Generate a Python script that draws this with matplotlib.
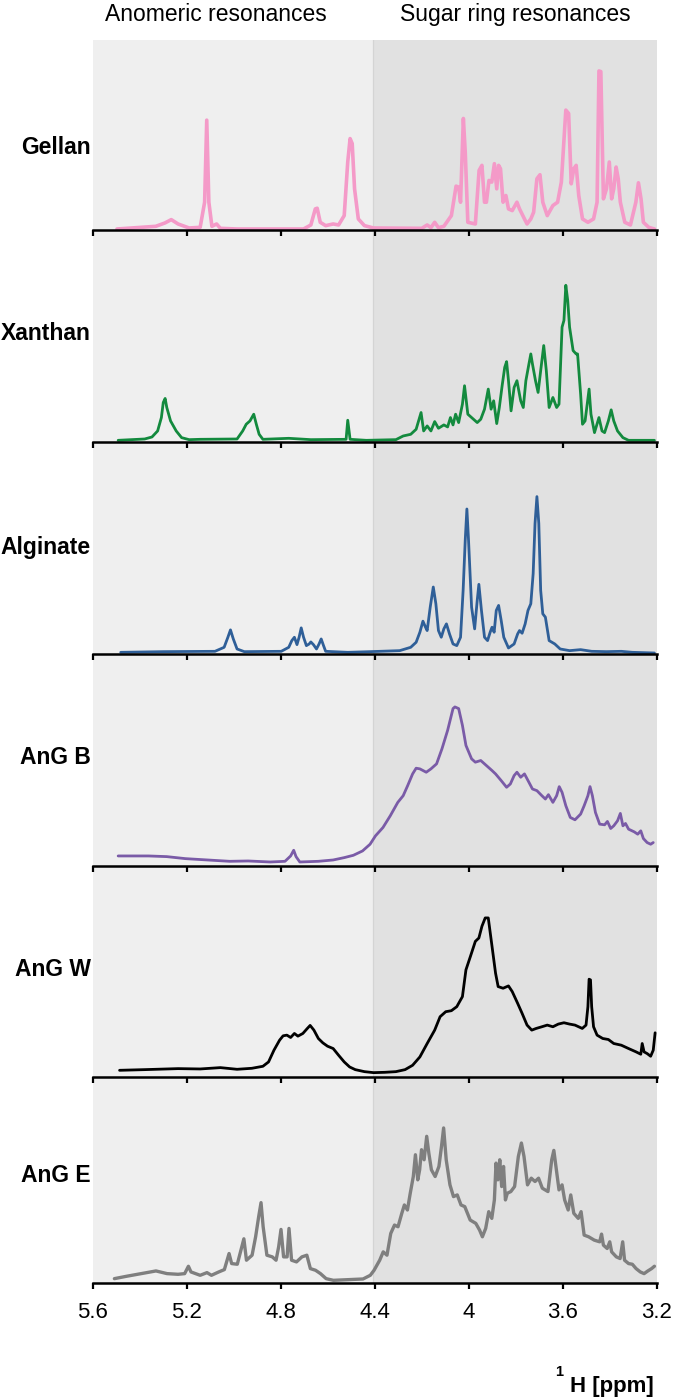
import matplotlib
matplotlib.use("Agg")
import matplotlib.pyplot as plt

plt.rcParams['font.family'] = ['Liberation Sans', 'DejaVu Sans']

# ---------------- data (ppm, intensity in arbitrary units) ----------------
gellan_ppm = [5.498, 5.333, 5.294, 5.267, 5.238, 5.191, 5.144, 5.125, 5.116, 5.107, 5.094, 5.074, 5.058, 4.987,
              4.704, 4.673, 4.654, 4.646, 4.633, 4.610, 4.578, 4.555, 4.531, 4.516, 4.506, 4.497, 4.487, 4.471,
              4.445, 4.406, 4.201, 4.178, 4.162, 4.146, 4.130, 4.107, 4.075, 4.055, 4.044, 4.036, 4.024, 4.016,
              4.005, 3.973, 3.957, 3.945, 3.934, 3.926, 3.915, 3.903, 3.892, 3.882, 3.874, 3.866, 3.855, 3.843,
              3.832, 3.816, 3.796, 3.785, 3.764, 3.753, 3.737, 3.725, 3.711, 3.698, 3.686, 3.667, 3.643, 3.623,
              3.607, 3.588, 3.576, 3.565, 3.554, 3.544, 3.533, 3.517, 3.494, 3.470, 3.455, 3.447, 3.439, 3.428,
              3.415, 3.403, 3.393, 3.384, 3.374, 3.365, 3.356, 3.337, 3.313, 3.290, 3.279, 3.268, 3.258, 3.235,
              3.211]
gellan_int = [3, 11, 21, 31, 18, 6, 8, 83, 328, 83, 11, 18, 5, 3,
              3, 15, 63, 65, 23, 13, 18, 15, 43, 203, 273, 258, 123, 33,
              13, 6, 5, 15, 7, 23, 7, 11, 43, 131, 128, 83, 333, 233,
              23, 18, 178, 193, 83, 83, 148, 143, 198, 123, 193, 183, 83, 103,
              63, 58, 83, 63, 33, 18, 33, 53, 153, 165, 83, 43, 73, 83,
              143, 358, 348, 138, 183, 193, 103, 33, 23, 33, 83, 475, 473, 93,
              123, 203, 93, 123, 188, 153, 83, 23, 15, 83, 141, 93, 23, 8,
              3]

xanthan_ppm = [5.493, 5.380, 5.349, 5.325, 5.309, 5.301, 5.293, 5.286, 5.270, 5.246, 5.223, 5.191, 5.144, 4.987,
               4.963, 4.948, 4.932, 4.916, 4.905, 4.893, 4.877, 4.767, 4.673, 4.523, 4.516, 4.506, 4.437, 4.311,
               4.280, 4.248, 4.225, 4.204, 4.193, 4.178, 4.162, 4.146, 4.130, 4.107, 4.091, 4.079, 4.068, 4.057,
               4.044, 4.028, 4.019, 4.005, 3.989, 3.965, 3.950, 3.934, 3.918, 3.906, 3.895, 3.882, 3.871, 3.859,
               3.848, 3.840, 3.832, 3.821, 3.808, 3.796, 3.780, 3.769, 3.758, 3.745, 3.737, 3.730, 3.717, 3.706,
               3.695, 3.682, 3.671, 3.659, 3.643, 3.627, 3.617, 3.604, 3.596, 3.588, 3.580, 3.572, 3.557, 3.544,
               3.538, 3.525, 3.517, 3.506, 3.497, 3.489, 3.481, 3.466, 3.447, 3.434, 3.423, 3.407, 3.395, 3.384,
               3.368, 3.345, 3.321, 3.211]
xanthan_int = [5, 9, 15, 33, 73, 118, 130, 103, 63, 33, 13, 7, 8, 9,
               33, 53, 63, 83, 53, 23, 8, 11, 7, 8, 65, 8, 5, 7,
               18, 23, 38, 88, 33, 48, 33, 61, 41, 51, 45, 73, 51, 83,
               58, 113, 168, 83, 73, 58, 68, 98, 158, 98, 123, 55, 103, 168,
               223, 240, 183, 93, 163, 183, 123, 103, 183, 233, 263, 233, 183, 148,
               213, 288, 213, 103, 133, 103, 113, 343, 363, 468, 423, 343, 273, 263,
               263, 143, 53, 63, 113, 158, 83, 28, 73, 33, 28, 63, 96, 63,
               33, 13, 5, 5]

alginate_ppm = [5.482, 5.301, 5.081, 5.042, 5.026, 5.015, 5.003, 4.987, 4.956, 4.799, 4.767, 4.754, 4.743, 4.732,
                4.723, 4.714, 4.704, 4.692, 4.680, 4.673, 4.662, 4.649, 4.638, 4.629, 4.619, 4.610, 4.516, 4.421,
                4.295, 4.248, 4.225, 4.209, 4.196, 4.185, 4.178, 4.165, 4.152, 4.141, 4.130, 4.118, 4.107, 4.096,
                4.083, 4.068, 4.052, 4.036, 4.025, 4.016, 4.009, 4.002, 3.989, 3.976, 3.965, 3.958, 3.947, 3.934,
                3.921, 3.910, 3.902, 3.893, 3.884, 3.874, 3.863, 3.852, 3.832, 3.808, 3.793, 3.785, 3.774, 3.761,
                3.749, 3.737, 3.727, 3.719, 3.711, 3.703, 3.695, 3.686, 3.675, 3.659, 3.635, 3.612, 3.572, 3.525,
                3.478, 3.415, 3.352, 3.305, 3.211]
alginate_int = [5, 7, 8, 20, 50, 72, 45, 15, 7, 8, 20, 40, 50, 28,
                50, 78, 50, 25, 30, 36, 28, 15, 30, 45, 25, 8, 5, 7,
                10, 20, 35, 65, 98, 80, 70, 140, 200, 150, 70, 50, 75, 90,
                60, 30, 25, 50, 190, 340, 433, 340, 140, 75, 160, 208, 130, 50,
                40, 65, 80, 65, 130, 145, 100, 50, 18, 30, 60, 70, 62, 90,
                130, 150, 240, 390, 470, 390, 190, 120, 110, 40, 30, 15, 10, 13,
                8, 7, 8, 5, 3]

angb_ppm = [5.493, 5.364, 5.286, 5.207, 5.113, 5.018, 4.940, 4.846, 4.783, 4.759, 4.746, 4.736, 4.720, 4.641,
            4.578, 4.531, 4.492, 4.453, 4.421, 4.398, 4.366, 4.335, 4.303, 4.280, 4.261, 4.240, 4.225, 4.209,
            4.182, 4.162, 4.138, 4.115, 4.091, 4.068, 4.060, 4.044, 4.028, 4.013, 3.989, 3.973, 3.950, 3.926,
            3.902, 3.887, 3.863, 3.840, 3.824, 3.808, 3.796, 3.780, 3.764, 3.745, 3.730, 3.711, 3.690, 3.675,
            3.662, 3.643, 3.627, 3.616, 3.604, 3.588, 3.569, 3.549, 3.525, 3.510, 3.494, 3.485, 3.475, 3.462,
            3.444, 3.423, 3.411, 3.397, 3.384, 3.368, 3.356, 3.345, 3.334, 3.321, 3.297, 3.282, 3.269, 3.258,
            3.242, 3.227, 3.216]
angb_int = [30, 30, 28, 22, 18, 14, 15, 12, 14, 30, 47, 28, 12, 14,
            18, 25, 32, 45, 65, 90, 115, 150, 190, 210, 240, 275, 292, 290,
            280, 290, 305, 350, 405, 470, 475, 470, 420, 360, 320, 310, 315, 300,
            285, 275, 255, 235, 245, 270, 280, 265, 275, 250, 230, 225, 210, 200,
            213, 190, 210, 237, 220, 180, 145, 138, 155, 180, 210, 237, 210, 160,
            125, 123, 133, 112, 120, 135, 157, 120, 127, 110, 102, 95, 105, 82,
            70, 65, 70]

angw_ppm = [5.487, 5.380, 5.238, 5.144, 5.058, 4.987, 4.924, 4.877, 4.853, 4.830, 4.806, 4.791, 4.775, 4.759,
            4.743, 4.728, 4.707, 4.688, 4.676, 4.660, 4.641, 4.622, 4.602, 4.578, 4.555, 4.531, 4.508, 4.484,
            4.445, 4.406, 4.358, 4.311, 4.272, 4.240, 4.209, 4.178, 4.146, 4.123, 4.099, 4.075, 4.052, 4.028,
            4.013, 3.994, 3.973, 3.958, 3.945, 3.931, 3.918, 3.902, 3.887, 3.876, 3.855, 3.832, 3.816, 3.793,
            3.774, 3.753, 3.733, 3.714, 3.690, 3.667, 3.643, 3.620, 3.596, 3.572, 3.549, 3.518, 3.502, 3.494,
            3.489, 3.483, 3.478, 3.470, 3.455, 3.431, 3.407, 3.384, 3.352, 3.321, 3.289, 3.269, 3.263, 3.255,
            3.242, 3.227, 3.216, 3.208]
angw_int = [20, 22, 25, 24, 28, 23, 26, 32, 45, 80, 110, 123, 125, 118,
            130, 122, 130, 145, 154, 140, 115, 102, 92, 85, 65, 45, 30, 22,
            16, 13, 14, 16, 22, 35, 60, 100, 140, 180, 195, 198, 210, 240,
            320, 360, 405, 415, 450, 475, 475, 390, 310, 270, 265, 272, 255, 220,
            190, 155, 140, 145, 150, 155, 150, 158, 162, 158, 155, 145, 155, 210,
            292, 290, 210, 150, 125, 115, 112, 100, 95, 85, 75, 68, 100, 75,
            70, 62, 80, 132]

ange_ppm = [5.509, 5.458, 5.395, 5.332, 5.285, 5.238, 5.210, 5.194, 5.183, 5.144,
            5.115, 5.096, 5.065, 5.041, 5.021, 5.010, 4.986, 4.967, 4.958, 4.947,
            4.923, 4.908, 4.895, 4.885, 4.876, 4.860, 4.837, 4.821, 4.810, 4.800,
            4.789, 4.774, 4.766, 4.755, 4.734, 4.711, 4.690, 4.675, 4.653, 4.632,
            4.608, 4.577, 4.514, 4.451, 4.420, 4.404, 4.380, 4.365, 4.349, 4.333,
            4.317, 4.302, 4.286, 4.275, 4.262, 4.250, 4.237, 4.228, 4.218, 4.210,
            4.202, 4.191, 4.180, 4.171, 4.160, 4.144, 4.128, 4.117, 4.108, 4.097,
            4.081, 4.066, 4.050, 4.034, 4.018, 3.995, 3.971, 3.955, 3.943, 3.929,
            3.916, 3.903, 3.892, 3.885, 3.877, 3.869, 3.861, 3.853, 3.845, 3.837,
            3.822, 3.806, 3.790, 3.777, 3.766, 3.751, 3.735, 3.719, 3.704, 3.688,
            3.664, 3.648, 3.639, 3.630, 3.617, 3.604, 3.593, 3.578, 3.567, 3.554,
            3.535, 3.523, 3.510, 3.491, 3.467, 3.444, 3.436, 3.428, 3.412, 3.401,
            3.393, 3.373, 3.357, 3.346, 3.338, 3.321, 3.305, 3.289, 3.271, 3.255,
            3.239, 3.223, 3.211]
ange_int = [13, 20, 28, 36, 28, 26, 28, 50, 33, 23,
            31, 23, 33, 40, 88, 58, 56, 108, 132, 68,
            83, 138, 198, 240, 168, 83, 78, 68, 108, 160,
            78, 78, 163, 68, 63, 78, 83, 43, 38, 28,
            13, 8, 10, 12, 23, 38, 68, 93, 83, 148,
            173, 168, 208, 233, 218, 268, 318, 383, 308, 338,
            398, 368, 438, 388, 338, 318, 348, 408, 463, 368,
            293, 258, 263, 233, 228, 188, 178, 158, 138, 163,
            213, 193, 248, 358, 308, 368, 288, 348, 248, 268,
            273, 288, 378, 418, 378, 293, 313, 303, 313, 283,
            273, 368, 396, 348, 278, 293, 248, 218, 263, 208,
            193, 213, 143, 138, 128, 123, 146, 113, 103, 123,
            93, 78, 73, 123, 68, 58, 56, 43, 33, 28,
            36, 43, 50]

labels = ["Gellan", "Xanthan", "Alginate", "AnG B", "AnG W", "AnG E"]
ppm_series = [gellan_ppm, xanthan_ppm, alginate_ppm, angb_ppm, angw_ppm, ange_ppm]
int_series = [gellan_int, xanthan_int, alginate_int, angb_int, angw_int, ange_int]
colors = ["#F49AC8", "#138A3E", "#2F5F98", "#7A5BA7", "#000000", "#7F7F7F"]
widths = [2.6, 2.0, 2.0, 2.0, 2.0, 2.4]

tick_vals = [5.6, 5.2, 4.8, 4.4, 4.0, 3.6, 3.2]
tick_labels = ["5.6", "5.2", "4.8", "4.4", "4", "3.6", "3.2"]
regions = ["Anomeric resonances", "Sugar ring resonances"]
region_split = 4.41

# ---------------- layout ----------------
W, H = 675, 1399
fig = plt.figure(figsize=(W / 100, H / 100), dpi=100)

left_px, right_px = 93, 657
bases = [230, 442, 654, 866, 1077, 1283]
tops = [40, 230, 442, 654, 866, 1077]
label_y = [147, 334, 547, 758, 969, 1176]
units_per_px = 2.986


def fx(px):
    return px / W


def fy(py):
    return 1 - py / H


# background
bg = fig.add_axes([fx(left_px), fy(1283), fx(right_px - left_px), (1283 - 40) / H])
bg.set_xlim(5.6, 3.2)
bg.set_ylim(0, 1)
bg.axvspan(5.6, region_split, color="#EFEFEF", lw=0)
bg.axvspan(region_split, 3.2, color="#E1E1E1", lw=0)
bg.axvline(region_split, color="#D4D4D4", lw=0.9)
bg.axis("off")

for i in range(6):
    h = bases[i] - tops[i]
    ax = fig.add_axes([fx(left_px), fy(bases[i]), fx(right_px - left_px), h / H])
    ax.set_facecolor("none")
    ax.plot(ppm_series[i], int_series[i], color=colors[i], lw=widths[i],
            solid_joinstyle="round", solid_capstyle="round", clip_on=False)
    ax.set_xlim(5.6, 3.2)
    ax.set_ylim(0, h * units_per_px)
    for s in ["top", "left", "right"]:
        ax.spines[s].set_visible(False)
    ax.spines["bottom"].set_linewidth(1.8)
    ax.set_yticks([])
    ax.set_xticks(tick_vals)
    ax.tick_params(axis="x", direction="out", length=4.5, width=1.6, pad=9)
    if i == 5:
        ax.set_xticklabels(tick_labels, fontsize=16)
    else:
        ax.set_xticklabels([])
    fig.text(fx(91), fy(label_y[i]), labels[i], ha="right", va="center",
             fontsize=16.5, fontweight="bold")

fig.text(fx(216), fy(21), regions[0], ha="center", va="baseline", fontsize=16.5)
fig.text(fx(515), fy(21), regions[1], ha="center", va="baseline", fontsize=16.5)

fig.text(fx(654), fy(1392), "H [ppm]", ha="right", va="baseline", fontsize=16, fontweight="bold")
fig.text(fx(563), fy(1376), "1", ha="right", va="baseline", fontsize=10.5, fontweight="bold")

fig.savefig("out.png", dpi=100)
